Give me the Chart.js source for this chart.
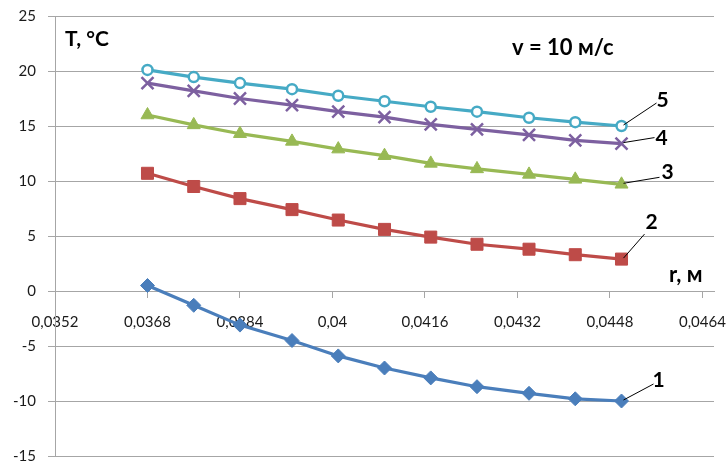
<!DOCTYPE html>
<html>
<head>
<meta charset="utf-8">
<script src="https://cdn.jsdelivr.net/npm/chart.js@4"></script>
<style>
  html, body { margin: 0; padding: 0; background: #fff; }
  #wrap { width: 728px; height: 467px; }
</style>
</head>
<body>
<div id="wrap"><canvas id="js-chart-temp"></canvas></div>
<script>
// radius values, m
const rValues = [0.0368, 0.0376, 0.0384, 0.0393, 0.0401, 0.0409, 0.0417, 0.0425, 0.0434, 0.0442, 0.0450];
// temperature, deg C, curves 1..5
const t1 = [0.5, -1.3, -3.1, -4.5, -5.9, -7.0, -7.9, -8.7, -9.3, -9.8, -10.0];
const t2 = [10.7, 9.5, 8.4, 7.4, 6.45, 5.6, 4.9, 4.25, 3.8, 3.3, 2.9];
const t3 = [16.0, 15.1, 14.3, 13.6, 12.9, 12.3, 11.6, 11.1, 10.6, 10.15, 9.7];
const t4 = [18.9, 18.2, 17.5, 16.9, 16.3, 15.8, 15.15, 14.7, 14.2, 13.7, 13.4];
const t5 = [20.1, 19.45, 18.9, 18.35, 17.75, 17.25, 16.75, 16.3, 15.75, 15.35, 15.0];
const curveNames = ["1", "2", "3", "4", "5"];
const xTicks = [0.0352, 0.0368, 0.0384, 0.04, 0.0416, 0.0432, 0.0448, 0.0464];
const yTicks = [-15, -10, -5, 0, 5, 10, 15, 20, 25];

const FONT = "Lato, 'Open Sans', sans-serif";
const TXT = "#1a1a1a";
const GRID = "#a6a6a6";

function pts(ys) {
    return ys.map((y, i) => ({ x: rValues[i], y: y }));
}

// leader line end and label offsets from the last point of each curve (px)
const leaders = [
    { line: [32, -17], text: [37, -21] },
    { line: [23, -25], text: [30, -37] },
    { line: [38, -7], text: [46, -12] },
    { line: [33, -6], text: [40, -5] },
    { line: [35, -23], text: [41, -26] },
];

const labelsPlugin = {
    id: "labelsPlugin",
    afterDatasetsDraw(chart) {
        const ctx = chart.ctx, xs = chart.scales.x, ys = chart.scales.y;
        const a = chart.chartArea;
        ctx.save();
        ctx.fillStyle = "#000";
        ctx.textBaseline = "middle";
        ctx.textAlign = "left";
        ctx.font = "bold 21px " + FONT;
        ctx.fillText("T, °C", a.left + 10, a.top + 23);
        ctx.font = "bold 22px " + FONT;
        ctx.fillText("v = 10 м/с", 512, 48);
        ctx.font = "bold 22px " + FONT;
        ctx.fillText("r, м", 669, ys.getPixelForValue(0) - 16);

        const series = [t1, t2, t3, t4, t5];
        series.forEach((s, i) => {
            const n = s.length - 1;
            const px = xs.getPixelForValue(rValues[n]);
            const py = ys.getPixelForValue(s[n]);
            const L = leaders[i];
            ctx.strokeStyle = "#000";
            ctx.lineWidth = 1;
            ctx.beginPath();
            ctx.moveTo(px + 2, py - 1);
            ctx.lineTo(px + L.line[0], py + L.line[1]);
            ctx.stroke();
            ctx.font = "bold 21px " + FONT;
            ctx.textAlign = "center";
            ctx.fillText(curveNames[i], px + L.text[0], py + L.text[1]);
        });
        ctx.restore();
    },
};

function ds(label, ys, color, style, radius, fill, bw) {
    return {
        label: label,
        data: pts(ys),
        showLine: true,
        borderColor: color,
        backgroundColor: color,
        borderWidth: 3.2,
        pointStyle: style,
        pointRadius: radius,
        pointHoverRadius: radius,
        pointBackgroundColor: fill,
        pointBorderColor: color,
        pointBorderWidth: bw,
        tension: 0,
    };
}

function noPad(s) {
    s.paddingLeft = 0;
    s.paddingRight = 0;
    s.paddingTop = 0;
    s.paddingBottom = 0;
}

new Chart(document.getElementById("js-chart-temp"), {
    type: "scatter",
    data: {
        datasets: [
            ds("1", t1, "#4a7ebb", "rectRot", 7, "#4a7ebb", 1),
            ds("2", t2, "#be4b48", "rect", 8.5, "#be4b48", 1),
            ds("3", t3, "#98b954", "triangle", 7.5, "#98b954", 1),
            ds("4", t4, "#7d60a0", "crossRot", 8.5, "#7d60a0", 2.5),
            ds("5", t5, "#46aac5", "circle", 5, "#ffffff", 2.5),
        ],
    },
    options: {
        responsive: true,
        maintainAspectRatio: false,
        animation: false,
        layout: { padding: { top: 16, right: 14, bottom: 11, left: 0 } },
        plugins: { legend: { display: false }, tooltip: { enabled: false } },
        scales: {
            x: {
                type: "linear",
                position: { y: 0 },
                min: 0.0352,
                max: 0.0466,
                afterBuildTicks: (s) => { s.ticks = xTicks.map((v) => ({ value: v })); },
                afterFit: noPad,
                grid: { drawOnChartArea: false, color: GRID, tickLength: 6 },
                border: { color: GRID },
                ticks: {
                    padding: 16,
                    color: TXT,
                    font: { family: FONT, size: 15 },
                    maxRotation: 0,
                    autoSkip: false,
                    callback: (v) => String(+v.toFixed(4)).replace(".", ","),
                },
            },
            y: {
                min: -15,
                max: 25,
                afterBuildTicks: (s) => { s.ticks = yTicks.map((v) => ({ value: v })); },
                afterFit: (s) => { s.width = 55; noPad(s); },
                grid: { color: GRID, tickLength: 7 },
                border: { color: GRID },
                ticks: {
                    padding: 12,
                    color: TXT,
                    font: { family: FONT, size: 15 },
                },
            },
        },
    },
    plugins: [labelsPlugin],
});
</script>
</body>
</html>
